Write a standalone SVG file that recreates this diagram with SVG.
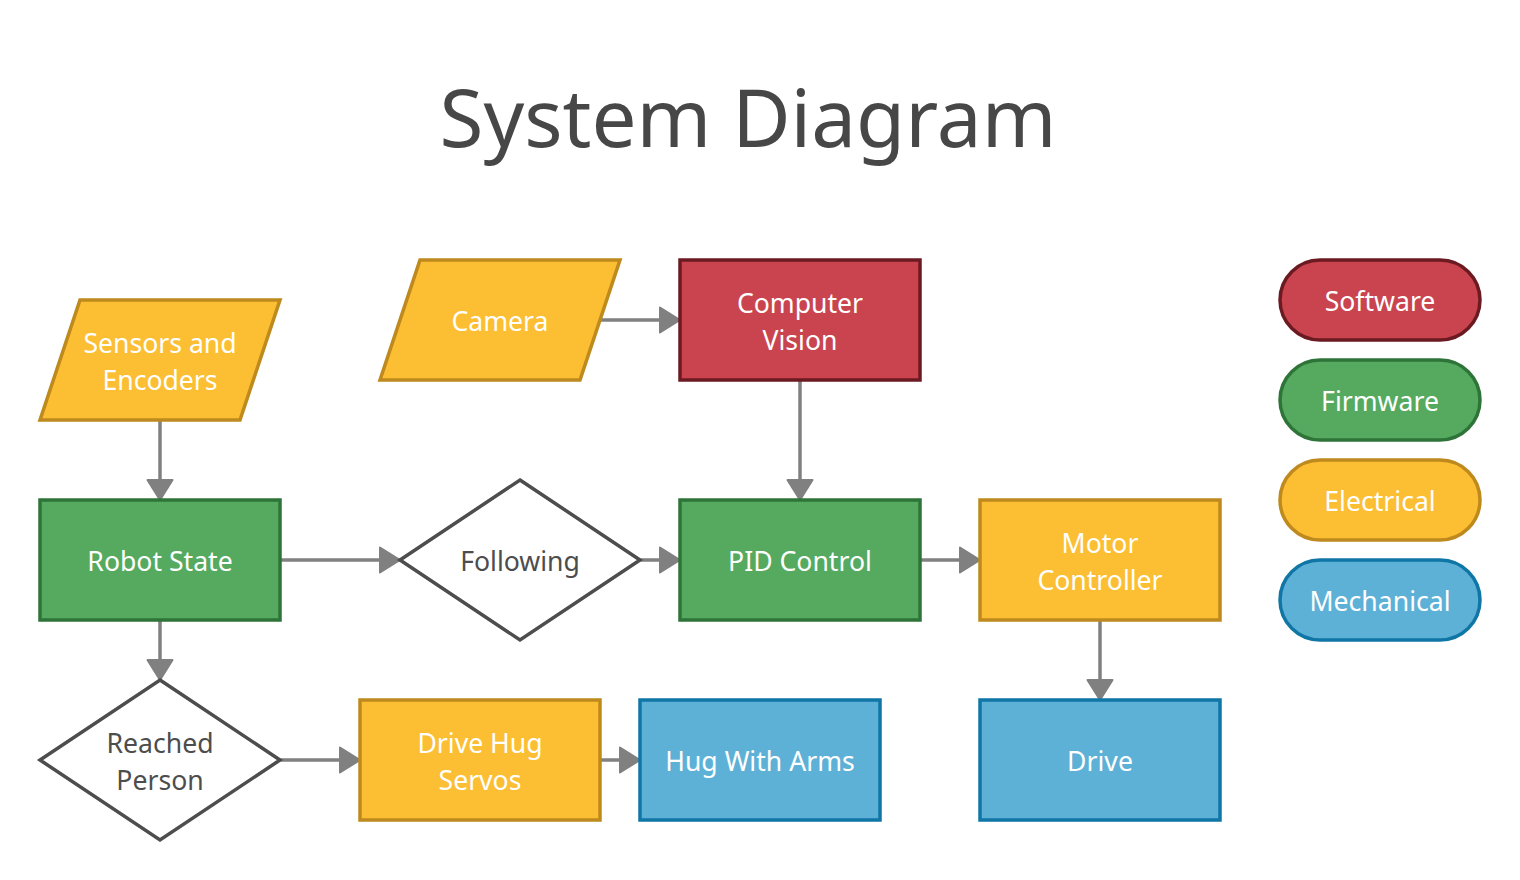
<svg xmlns="http://www.w3.org/2000/svg" width="1520" height="880" viewBox="0 0 1520 880">
<defs>
<style>
text{font-family:"Noto Sans","Open Sans","Liberation Sans",sans-serif;text-anchor:middle;dominant-baseline:central}
.lbl{fill:#ffffff;font-size:26.6px}
.dlbl{fill:#4d4d4d;font-size:26.6px}
.title{fill:#474747;font-size:80px;dominant-baseline:auto}
.sw{fill:#C9444E;stroke:#6B1A22;stroke-width:3.5}
.fw{fill:#55AA60;stroke:#2E7438;stroke-width:3.5}
.el{fill:#FCBE33;stroke:#BE8A1E;stroke-width:3.5}
.me{fill:#5EB1D6;stroke:#0F76A5;stroke-width:3.5}
.dec{fill:#ffffff;stroke:#4d4d4d;stroke-width:3.5}
.conn{stroke:#808080;stroke-width:3.5;fill:none;marker-end:url(#arr)}
</style>
<marker id="arr" markerUnits="userSpaceOnUse" markerWidth="24" markerHeight="30" refX="21" refY="14" orient="auto">
<path d="M1,1.5 L21,14 L1,26.5 Z" fill="#808080" stroke="#808080" stroke-width="2" stroke-linejoin="round"/>
</marker>
</defs>
<rect width="1520" height="880" fill="#ffffff"/>
<text class="title" x="748" y="147">System Diagram</text>

<g id="connectors">
<path class="conn" d="M160,420 V500"/>
<path class="conn" d="M600,320 H680"/>
<path class="conn" d="M800,380 V500"/>
<path class="conn" d="M280,560 H400"/>
<path class="conn" d="M640,560 H680"/>
<path class="conn" d="M920,560 H980"/>
<path class="conn" d="M1100,620 V700"/>
<path class="conn" d="M160,620 V680"/>
<path class="conn" d="M280,760 H360"/>
<path class="conn" d="M600,760 H640"/>
</g>

<g id="sensors">
<polygon class="el" points="80,300 280,300 240,420 40,420"/>
<text class="lbl" x="160" y="342.5">Sensors and</text>
<text class="lbl" x="160" y="379.5">Encoders</text>
</g>
<g id="camera">
<polygon class="el" points="420,260 620,260 580,380 380,380"/>
<text class="lbl" x="500" y="320.5">Camera</text>
</g>
<g id="computer-vision">
<rect class="sw" x="680" y="260" width="240" height="120"/>
<text class="lbl" x="800" y="302.5">Computer</text>
<text class="lbl" x="800" y="339.5">Vision</text>
</g>
<g id="robot-state">
<rect class="fw" x="40" y="500" width="240" height="120"/>
<text class="lbl" x="160" y="560.5">Robot State</text>
</g>
<g id="following">
<polygon class="dec" points="520,480 640,560 520,640 400,560"/>
<text class="dlbl" x="520" y="560.5">Following</text>
</g>
<g id="pid-control">
<rect class="fw" x="680" y="500" width="240" height="120"/>
<text class="lbl" x="800" y="560.5">PID Control</text>
</g>
<g id="motor-controller">
<rect class="el" x="980" y="500" width="240" height="120"/>
<text class="lbl" x="1100" y="542.5">Motor</text>
<text class="lbl" x="1100" y="579.5">Controller</text>
</g>
<g id="reached-person">
<polygon class="dec" points="160,680 280,760 160,840 40,760"/>
<text class="dlbl" x="160" y="742.5">Reached</text>
<text class="dlbl" x="160" y="779.5">Person</text>
</g>
<g id="drive-hug-servos">
<rect class="el" x="360" y="700" width="240" height="120"/>
<text class="lbl" x="480" y="742.5">Drive Hug</text>
<text class="lbl" x="480" y="779.5">Servos</text>
</g>
<g id="hug-with-arms">
<rect class="me" x="640" y="700" width="240" height="120"/>
<text class="lbl" x="760" y="760.5">Hug With Arms</text>
</g>
<g id="drive">
<rect class="me" x="980" y="700" width="240" height="120"/>
<text class="lbl" x="1100" y="760.5">Drive</text>
</g>

<g id="legend-software">
<rect class="sw" x="1280" y="260" width="200" height="80" rx="40"/>
<text class="lbl" x="1380" y="300.5">Software</text>
</g>
<g id="legend-firmware">
<rect class="fw" x="1280" y="360" width="200" height="80" rx="40"/>
<text class="lbl" x="1380" y="400.5">Firmware</text>
</g>
<g id="legend-electrical">
<rect class="el" x="1280" y="460" width="200" height="80" rx="40"/>
<text class="lbl" x="1380" y="500.5">Electrical</text>
</g>
<g id="legend-mechanical">
<rect class="me" x="1280" y="560" width="200" height="80" rx="40"/>
<text class="lbl" x="1380" y="600.5">Mechanical</text>
</g>
</svg>
